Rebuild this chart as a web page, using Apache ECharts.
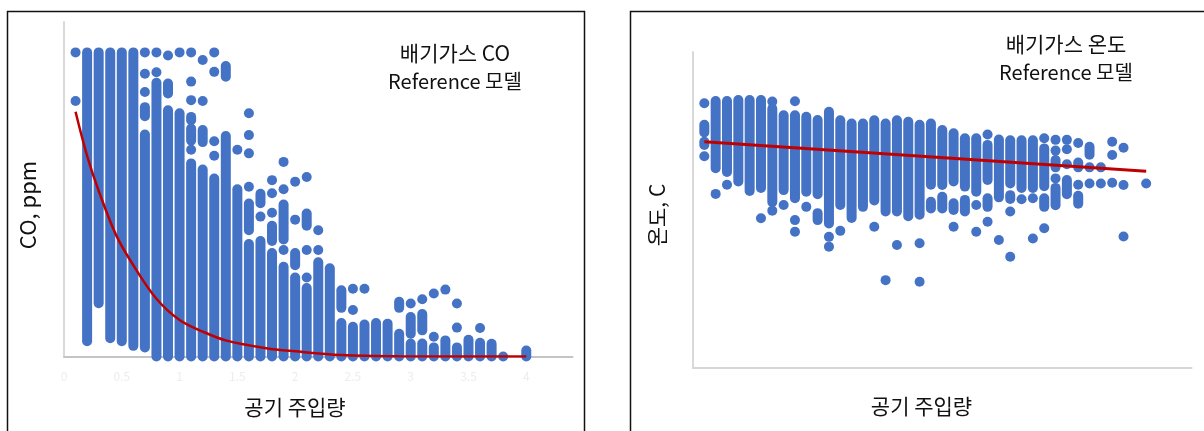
<!DOCTYPE html>
<html><head><meta charset="utf-8">
<script src="https://cdn.jsdelivr.net/npm/echarts@6/dist/echarts.min.js"></script>
<style>html,body{margin:0;padding:0;background:#fff}#c{width:1204px;height:431px}</style>
</head><body><div id="c"></div>
<script>
// ---------- CO panel (x = air injection, y = CO) ----------
// solid runs of overlapping dots: [x, low, high]
const coRuns = [
  [0.2,5,100],[0.3,17.5,100],[0.4,6,100],[0.5,5,100],[0.6,3.5,100],
  [0.7,79,82],[0.7,3,73],
  [0.8,0,90],
  [0.9,86.5,89.8],[0.9,0,81],
  [1.0,0,80],
  [1.1,77.7,78.8],[1.1,71,75],[1.1,0,63.5],
  [1.2,70.5,74.5],[1.2,0,61.5],
  [1.3,0,58.5],
  [1.4,92,95.5],[1.4,0,72.5],
  [1.5,0,55],
  [1.6,41.5,50.3],[1.6,0,37],
  [1.7,50.4,53.5],[1.7,0,38],
  [1.8,38,43],[1.8,0,34],
  [1.9,38.5,50],[1.9,0,29.5],
  [2.0,30,34],[2.0,0,26],
  [2.1,43,47],[2.1,0,22.5],
  [2.2,0,31],
  [2.3,0,29],
  [2.4,16,21.8],[2.4,0,11],
  [2.5,0,9.8],
  [2.6,0,10.5],
  [2.7,0,11],
  [2.8,0,10.8],
  [2.9,16,18],[2.9,0,7.5],
  [3.0,7.5,13],[3.0,0,4.3],
  [3.1,8.6,14],[3.1,0,4.3],
  [3.2,0,3],
  [3.3,0,5.3],
  [3.4,0,3],
  [3.5,0,5.5],
  [3.6,0,4.5],
  [3.7,0,4.2],
  [4.0,0,2]
];
// isolated dots: [x, y]
const coDots = [
  [0.1,100],[0.1,84],
  [0.7,100],[0.7,93],[0.7,87],
  [0.8,100],[0.8,93.5],
  [0.9,99],
  [1.0,100],
  [1.1,100],[1.1,90.4],[1.1,84.3],[1.1,68],
  [1.2,97.5],[1.2,84],
  [1.3,100],[1.3,93.6],[1.3,70.8],[1.3,66],
  [1.5,68],
  [1.6,80],[1.6,72.8],[1.6,66.8],[1.6,55.8],
  [1.7,46],
  [1.8,58],[1.8,53.7],[1.8,47.3],
  [1.9,64],[1.9,55],[1.9,35],
  [2.0,57.5],[2.0,45],
  [2.1,59],[2.1,35],[2.1,26],
  [2.2,41.5],[2.2,35],
  [2.5,22.3],[2.5,15.3],
  [2.6,22.3],
  [3.0,17.4],
  [3.1,18.8],
  [3.2,20.7],[3.2,6.5],
  [3.3,22],
  [3.4,17.4],[3.4,9.5],
  [3.6,9.4],
  [3.8,0]
];
// fitted curve
const coFitX = [0.1,0.2,0.3,0.45,0.6,0.8,1.0,1.2,1.4,1.75,2.0,2.4,2.9,4.0];
const coFitY = [80.5,66,54.5,40,30,19,12,8.2,5.3,2.7,1.7,0.5,0.1,0];

// ---------- Temperature panel ----------
const tempRuns = [
  [0.1,74.5,77],[0.1,70.6,71.6],
  [0.2,63.2,84.5],[0.3,62,84.5],[0.4,59,84.8],[0.5,56,84.8],[0.6,57,84.8],
  [0.7,52.5,82],[0.8,56.3,80],[0.9,53.7,80],[1.0,55.8,79.5],
  [1.1,55,78.5],[1.1,46.8,49],
  [1.2,45.7,81.1],[1.3,51.6,78.4],[1.4,47.5,77.4],[1.5,51,77.4],
  [1.6,53,78.4],[1.7,49.5,77.4],[1.8,49.5,78.4],[1.9,48,77.9],[2.0,48.5,77],
  [2.1,58,77.4],[2.1,50.5,52.6],
  [2.2,57.9,75.3],[2.2,50.5,54.2],
  [2.3,59,74.3],[2.3,50,52.1],
  [2.4,57.4,72.7],[2.4,49.5,53.2],
  [2.5,55.8,72.7],
  [2.6,59.5,70.6],[2.6,51,53.7],
  [2.7,54,72.3],
  [2.8,58.4,72.1],[2.8,53.5,54.7],
  [2.9,57,72.1],
  [3.0,57,72.1],
  [3.1,57.5,69.5],[3.1,51,53.7],
  [3.2,63.5,65.8],[3.2,51.5,57],
  [3.3,55,59.5],
  [3.4,63.5,65],[3.4,52,54.5],
  [3.5,67.5,70]
];
const tempDots = [
  [0.1,83.8],[0.1,67],
  [0.2,55.1],[0.3,58],[0.6,47.4],
  [0.7,84.3],[0.7,49.8],[0.8,51.6],
  [0.9,84.4],[0.9,46.8],[0.9,43.1],
  [1.0,51],[1.2,41.5],[1.2,38.4],[1.3,43.4],
  [1.6,44.7],[1.7,27.8],[1.8,38.9],[2.0,39.5],[2.0,27.3],
  [2.3,44.7],[2.5,51.6],[2.5,43.1],[2.6,73.9],[2.6,46.3],
  [2.7,40.5],[2.8,49.5],[2.8,35.2],[2.9,53.4],[3.0,53.7],[3.0,41],
  [3.1,72.7],[3.1,44.2],
  [3.2,72.2],[3.2,68.8],[3.2,60],
  [3.3,72.2],[3.3,69.2],[3.3,64.5],
  [3.4,71.2],[3.4,58],
  [3.5,63.5],[3.5,58.4],
  [3.6,63.5],[3.6,58.4],
  [3.7,71.6],[3.7,67.4],[3.7,58.6],
  [3.8,69.7],[3.8,57.9],[3.8,41.6],
  [4.0,58.4]
];
const tempFitX = [0.1, 4.0];
const tempFitY = [71.6, 62.3];

const BLUE = '#4472c4', RED = '#c00000', R = 5;
const KR = '"Noto Sans CJK KR", "Noto Sans", sans-serif';

function renderRun(params, api) {
  const x = api.value(0), lo = api.value(1), hi = api.value(2);
  const pt = api.coord([x, hi]), pb = api.coord([x, lo]);
  return {
    type: 'rect',
    shape: { x: pt[0] - R, y: pt[1] - R, width: 2 * R, height: pb[1] - pt[1] + 2 * R, r: R },
    style: { fill: BLUE }
  };
}
const zip = (a, b) => a.map((v, i) => [v, b[i]]);

const chart = echarts.init(document.getElementById('c'), null, { renderer: 'canvas' });
chart.setOption({
  animation: false,
  backgroundColor: '#fff',
  grid: [
    { left: 64, right: 631.5, top: 22, bottom: 74.5 },
    { left: 693, right: 12.5, top: 52, bottom: 63 }
  ],
  xAxis: [
    { type: 'value', gridIndex: 0, min: 0, max: 4.4, interval: 0.5,
      axisLine: { show: true, lineStyle: { color: '#c4c4c4', width: 2 } },
      axisTick: { show: false }, splitLine: { show: false },
      axisLabel: { show: true, color: '#ededed', fontSize: 12, margin: 14, showMaxLabel: false, fontFamily: KR } },
    { type: 'value', gridIndex: 1, min: 0, max: 4.4, interval: 0.5,
      axisLine: { show: true, lineStyle: { color: '#d6d6d6', width: 2 } },
      axisTick: { show: false }, splitLine: { show: false }, axisLabel: { show: false } }
  ],
  yAxis: [
    { type: 'value', gridIndex: 0, min: 0, max: 110,
      axisLine: { show: true, lineStyle: { color: '#d9d9d9', width: 2 } },
      axisTick: { show: false }, splitLine: { show: false }, axisLabel: { show: false } },
    { type: 'value', gridIndex: 1, min: 0, max: 100,
      axisLine: { show: true, lineStyle: { color: '#d9d9d9', width: 2 } },
      axisTick: { show: false }, splitLine: { show: false }, axisLabel: { show: false } }
  ],
  series: [
    { type: 'custom', xAxisIndex: 0, yAxisIndex: 0, renderItem: renderRun, clip: false,
      encode: { x: 0, y: [1, 2] }, data: coRuns, z: 2 },
    { type: 'scatter', xAxisIndex: 0, yAxisIndex: 0, symbolSize: 2 * R, clip: false,
      itemStyle: { color: BLUE, opacity: 1 }, data: coDots, z: 2 },
    { type: 'line', xAxisIndex: 0, yAxisIndex: 0, data: zip(coFitX, coFitY), smooth: 0.35,
      showSymbol: false, lineStyle: { color: RED, width: 2.5 }, z: 5 },
    { type: 'custom', xAxisIndex: 1, yAxisIndex: 1, renderItem: renderRun, clip: false,
      encode: { x: 0, y: [1, 2] }, data: tempRuns, z: 2 },
    { type: 'scatter', xAxisIndex: 1, yAxisIndex: 1, symbolSize: 2 * R, clip: false,
      itemStyle: { color: BLUE, opacity: 1 }, data: tempDots, z: 2 },
    { type: 'line', xAxisIndex: 1, yAxisIndex: 1, data: zip(tempFitX, tempFitY),
      showSymbol: false, lineStyle: { color: RED, width: 3 }, z: 5 }
  ],
  graphic: [
    { type: 'rect', shape: { x: 7.5, y: 11.5, width: 577, height: 440 },
      style: { fill: 'none', stroke: '#111', lineWidth: 1.5 }, z: 10 },
    { type: 'rect', shape: { x: 630.5, y: 11.5, width: 600, height: 440 },
      style: { fill: 'none', stroke: '#111', lineWidth: 1.5 }, z: 10 },
    { type: 'text', x: 455, y: 53.5, style: { text: '배기가스 CO', font: '21px ' + KR, fill: '#111', align: 'center', verticalAlign: 'middle' }, z: 10 },
    { type: 'text', x: 455, y: 81, style: { text: 'Reference 모델', font: '20px ' + KR, fill: '#111', align: 'center', verticalAlign: 'middle' }, z: 10 },
    { type: 'text', x: 1066, y: 44, style: { text: '배기가스 온도', font: '21px ' + KR, fill: '#111', align: 'center', verticalAlign: 'middle' }, z: 10 },
    { type: 'text', x: 1066, y: 72.5, style: { text: 'Reference 모델', font: '20px ' + KR, fill: '#111', align: 'center', verticalAlign: 'middle' }, z: 10 },
    { type: 'text', x: 295, y: 407, style: { text: '공기 주입량', font: '21px ' + KR, fill: '#111', align: 'center', verticalAlign: 'middle' }, z: 10 },
    { type: 'text', x: 921.5, y: 406, style: { text: '공기 주입량', font: '21px ' + KR, fill: '#111', align: 'center', verticalAlign: 'middle' }, z: 10 },
    { type: 'text', x: 28, y: 205, rotation: Math.PI / 2, style: { text: 'CO, ppm', font: '22px ' + KR, fill: '#111', align: 'center', verticalAlign: 'middle' }, z: 10 },
    { type: 'text', x: 657, y: 215, rotation: Math.PI / 2, style: { text: '온도, C', font: '21px ' + KR, fill: '#111', align: 'center', verticalAlign: 'middle' }, z: 10 }
  ]
});
</script></body></html>
